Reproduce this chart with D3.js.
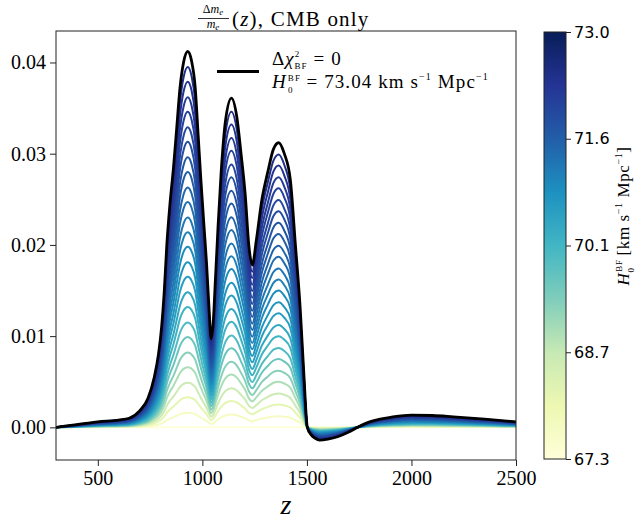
<!DOCTYPE html>
<html>
<head>
<meta charset="utf-8">
<script src="https://cdn.jsdelivr.net/npm/d3@7"></script>
<style>
  body { margin: 0; background: #fff; }
  text { fill: #000; }
</style>
</head>
<body>
<svg id="chart" width="637" height="520"></svg>
<script>
// best-fit curve (black)
const zGrid = [300, 400, 500, 600, 650, 700, 740, 770, 790, 805, 818, 830, 845, 862, 878, 893, 910, 930, 948, 966,
  980, 993, 1008, 1020, 1032, 1042, 1052, 1062, 1075, 1090, 1110, 1139, 1165, 1185, 1205, 1222, 1239, 1258, 1285,
  1313, 1340, 1365, 1392, 1421, 1445, 1468, 1485, 1502, 1520, 1540, 1560, 1600, 1650, 1700, 1750, 1800, 1850, 1900,
  2000, 2100, 2200, 2350, 2500]
const dmBF = [0.0000, 0.0003, 0.0006, 0.0008, 0.0010, 0.0018, 0.0032, 0.0055, 0.0080, 0.0110, 0.0150, 0.0200, 0.0245,
  0.0285, 0.0330, 0.0372, 0.0400, 0.0412, 0.0402, 0.0372, 0.0320, 0.0271, 0.0220, 0.0180, 0.0130, 0.0097, 0.0115,
  0.0160, 0.0220, 0.0280, 0.0335, 0.0361, 0.0340, 0.0300, 0.0255, 0.0200, 0.0178, 0.0205, 0.0250, 0.0280, 0.0305,
  0.0312, 0.0300, 0.0271, 0.0200, 0.0130, 0.0060, 0.0000, -0.0008, -0.0012, -0.0014, -0.0013, -0.0010, -0.0005,
  0.0001, 0.0006, 0.0009, 0.0011, 0.00135, 0.0013, 0.00115, 0.0009, 0.0006]
const bfPeak = 0.0412

// coloured curves: height of first peak and H0 value of each
const curvePeak = [0.0000, 0.0016, 0.0033, 0.0049, 0.0066, 0.0082, 0.0099, 0.0115, 0.0132, 0.0148, 0.0165, 0.0181,
  0.0198, 0.0214, 0.0230, 0.0247, 0.0263, 0.0280, 0.0296, 0.0313, 0.0329, 0.0346, 0.0362, 0.0379, 0.0395]
const curveH0 = [67.30, 67.70, 68.16, 68.61, 69.01, 69.35, 69.69, 69.98, 70.21, 70.44, 70.61, 70.78, 70.95, 71.09,
  71.23, 71.35, 71.49, 71.63, 71.75, 71.86, 71.97, 72.09, 72.20, 72.32, 72.43]

const xTicks = [500, 1000, 1500, 2000, 2500]
const yTicks = [0.00, 0.01, 0.02, 0.03, 0.04]
const yTickLabels = ['0.00', '0.01', '0.02', '0.03', '0.04']
const cbTicks = [67.3, 68.725, 70.15, 71.575, 73.0]
const cbTickLabels = ['67.3', '68.7', '70.1', '71.6', '73.0']
const ylgnbu = ['#ffffd9', '#edf8b1', '#c7e9b4', '#7fcdbb', '#41b6c4', '#1d91c0', '#225ea8', '#253494', '#081d58']

const svg = d3.select('#chart')
const serif = "'Liberation Serif', 'Times New Roman', serif"
const mLeft = 56, mRight = 516, mTop = 31, mBottom = 460

const x = d3.scaleLinear().domain([300, 2500]).range([mLeft, mRight])
const y = d3.scaleLinear().domain([-0.00358, 0.04345]).range([mBottom, mTop])

const cMin = 67.3, cMax = 73.0
const color = d3.scaleLinear()
  .domain(ylgnbu.map((c, i) => cMin + i * (cMax - cMin) / (ylgnbu.length - 1)))
  .range(ylgnbu)
  .clamp(true)

svg.append('clipPath').attr('id', 'clip')
  .append('rect')
  .attr('x', mLeft).attr('y', mTop)
  .attr('width', mRight - mLeft).attr('height', mBottom - mTop)

const line = d3.line()
  .x(d => x(d[0]))
  .y(d => y(d[1]))
  .curve(d3.curveMonotoneX)

const plot = svg.append('g').attr('clip-path', 'url(#clip)')

// coloured curves, lowest first
curvePeak.forEach((p, k) => {
  const pts = zGrid.map((z, i) => [z, dmBF[i] * p / bfPeak])
  plot.append('path')
    .attr('d', line(pts))
    .attr('fill', 'none')
    .attr('stroke', color(curveH0[k]))
    .attr('stroke-width', 2)
})

// best fit
plot.append('path')
  .attr('d', line(zGrid.map((z, i) => [z, dmBF[i]])))
  .attr('fill', 'none')
  .attr('stroke', '#000')
  .attr('stroke-width', 2.8)

// axes
const xaxis = d3.axisBottom(x).tickValues(xTicks).tickFormat(d3.format('d')).tickSize(6).tickSizeOuter(0).tickPadding(5)
const xg = svg.append('g').attr('transform', `translate(0,${mBottom})`).call(xaxis)
const yaxis = d3.axisLeft(y).tickValues(yTicks).tickFormat((d, i) => yTickLabels[i]).tickSize(6).tickSizeOuter(0).tickPadding(4)
const yg = svg.append('g').attr('transform', `translate(${mLeft},0)`).call(yaxis)
;[xg, yg].forEach(g => {
  g.attr('font-family', serif).attr('font-size', 20)
  g.selectAll('text').style('font-family', serif).style('font-size', '20px')
  g.select('.domain').remove()
  g.selectAll('line').attr('stroke', '#222')
})

svg.append('rect')
  .attr('x', mLeft).attr('y', mTop)
  .attr('width', mRight - mLeft).attr('height', mBottom - mTop)
  .attr('fill', 'none').attr('stroke', '#222').attr('stroke-width', 1)

// x label
svg.append('text')
  .attr('x', (mLeft + mRight) / 2).attr('y', 514)
  .attr('text-anchor', 'middle')
  .attr('font-family', serif).attr('font-style', 'italic').attr('font-size', 28)
  .text('z')

// title
const title = svg.append('g').attr('font-family', serif)
const num = title.append('text').attr('x', 213).attr('y', 13).attr('text-anchor', 'middle').attr('font-size', 12)
num.append('tspan').text('Δ')
num.append('tspan').attr('font-style', 'italic').text('m')
num.append('tspan').attr('dy', 2).attr('font-size', 9).attr('font-style', 'italic').text('e')
title.append('line').attr('x1', 198).attr('x2', 229).attr('y1', 18.5).attr('y2', 18.5).attr('stroke', '#000').attr('stroke-width', 0.8)
const den = title.append('text').attr('x', 213).attr('y', 28).attr('text-anchor', 'middle').attr('font-size', 12)
den.append('tspan').attr('font-style', 'italic').text('m')
den.append('tspan').attr('dy', 2).attr('font-size', 9).attr('font-style', 'italic').text('e')
const tt = title.append('text').attr('x', 232).attr('y', 26).attr('font-size', 21).attr('letter-spacing', 1.2)
tt.append('tspan').text('(')
tt.append('tspan').attr('font-style', 'italic').text('z')
tt.append('tspan').text('), CMB only')

// legend
svg.append('line').attr('x1', 217).attr('x2', 259).attr('y1', 71.5).attr('y2', 71.5)
  .attr('stroke', '#000').attr('stroke-width', 2.8)
const leg = svg.append('g').attr('font-family', serif).attr('font-size', 19).attr('letter-spacing', 1.1)
const l1 = leg.append('text').attr('x', 272).attr('y', 65)
l1.append('tspan').text('Δ')
l1.append('tspan').attr('font-style', 'italic').text('χ')
l1.append('tspan').attr('dy', -8).attr('font-size', 9).text('2')
l1.append('tspan').attr('dx', -6).attr('dy', 12).attr('font-size', 9).text('BF')
l1.append('tspan').attr('dy', -4).text(' = 0')
const l2 = leg.append('text').attr('x', 272).attr('y', 88)
l2.append('tspan').attr('font-style', 'italic').text('H')
l2.append('tspan').attr('dx', 1).attr('dy', -7).attr('font-size', 9).text('BF')
l2.append('tspan').attr('dx', -13).attr('dy', 12).attr('font-size', 9).text('0')
l2.append('tspan').attr('dx', 7).attr('dy', -5).text(' = 73.04 km s')
l2.append('tspan').attr('dy', -8).attr('font-size', 10).text('−1')
l2.append('tspan').attr('dy', 8).text(' Mpc')
l2.append('tspan').attr('dy', -8).attr('font-size', 10).text('−1')

// colorbar
const cbX = 544, cbW = 22
const cy = d3.scaleLinear().domain([cMin, cMax]).range([459, 32])
const grad = svg.append('defs').append('linearGradient').attr('id', 'cbgrad')
  .attr('x1', 0).attr('y1', 1).attr('x2', 0).attr('y2', 0)
ylgnbu.forEach((c, i) => {
  grad.append('stop').attr('offset', i / (ylgnbu.length - 1)).attr('stop-color', c)
})
svg.append('rect').attr('x', cbX).attr('y', 32).attr('width', cbW).attr('height', 427)
  .attr('fill', 'url(#cbgrad)').attr('stroke', '#222').attr('stroke-width', 1)
const cbaxis = d3.axisRight(cy).tickValues(cbTicks).tickFormat((d, i) => cbTickLabels[i]).tickSize(5).tickSizeOuter(0).tickPadding(3)
const cg = svg.append('g').attr('transform', `translate(${cbX + cbW},0)`).call(cbaxis)
cg.attr('font-family', "'DejaVu Sans', sans-serif").attr('font-size', 16)
cg.select('.domain').remove()
cg.selectAll('line').attr('stroke', '#222')

const cl = svg.append('text')
  .attr('transform', 'translate(629,216) rotate(-90)')
  .attr('text-anchor', 'middle')
  .attr('font-family', serif).attr('font-size', 17).attr('letter-spacing', 0.6)
cl.append('tspan').attr('font-style', 'italic').text('H')
cl.append('tspan').attr('dx', 1).attr('dy', -7).attr('font-size', 9).text('BF')
cl.append('tspan').attr('dx', -13).attr('dy', 12).attr('font-size', 9).text('0')
cl.append('tspan').attr('dx', 7).attr('dy', -5).text(' [km s')
cl.append('tspan').attr('dy', -7).attr('font-size', 10).text('−1')
cl.append('tspan').attr('dy', 7).text(' Mpc')
cl.append('tspan').attr('dy', -7).attr('font-size', 10).text('−1')
cl.append('tspan').attr('dy', 7).text(']')
</script>
</body>
</html>
